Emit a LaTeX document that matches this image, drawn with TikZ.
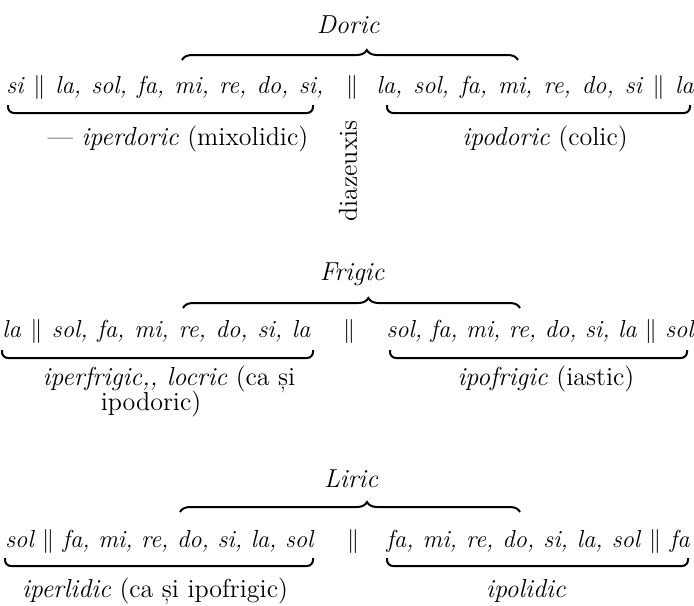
\documentclass[tikz,border=0pt]{standalone}
\usepackage{fontspec}
\usetikzlibrary{decorations.pathreplacing}

\begin{document}
\begin{tikzpicture}[x=0.5pt,y=-0.5pt]
\tikzset{
  modename/.style={font=\fontsize{13}{15}\selectfont\itshape,inner sep=0pt,anchor=base},
  noteline/.style={font=\fontsize{12.3}{15}\selectfont\itshape,inner sep=0pt},
  sepbar/.style={font=\fontsize{13}{15}\selectfont,inner sep=0pt,anchor=base},
  modelabel/.style={font=\fontsize{13}{15}\selectfont,inner sep=0pt,anchor=base},
  overbr/.style={decorate,decoration={brace,amplitude=5pt,aspect=0.55},line width=1pt},
  underbr/.style={rounded corners=3pt,line width=1pt}
}
\useasboundingbox (0,0) rectangle (694,605);
\node[modename] (n_doric) at (348,33) {Doric};
\node[noteline,anchor=base west] (n_d_left) at (6,93) {\makebox[158.5pt][s]{si $\|$ la, sol, fa, mi, re, do, si,}};
\node[sepbar] (n_d_bar) at (352,93) {$\|$};
\node[noteline,anchor=base east] (n_d_right) at (694,93) {\makebox[158.5pt][s]{la, sol, fa, mi, re, do, si $\|$ la}};
\node[modelabel] (n_d_hyper) at (178,145) {--- \textit{iperdoric} (mixolidic)};
\node[modelabel] (n_d_hypo) at (545,145) {\textit{ipodoric} (colic)};
\node[modelabel,rotate=90,anchor=center] (n_diaz) at (348,171) {diazeuxis};
\coordinate (c_d_oa) at (182,60);
\coordinate (c_d_ob) at (518,60);
\coordinate (c_d_la) at (8,105);
\coordinate (c_d_lb) at (313,105);
\coordinate (c_d_ra) at (387,105);
\coordinate (c_d_rb) at (690,105);
\draw[overbr] (c_d_oa) -- (c_d_ob);
\draw[underbr] (c_d_la) -- ++(0,8) -| (c_d_lb);
\draw[underbr] (c_d_ra) -- ++(0,8) -| (c_d_rb);
\node[modename] (n_frigic) at (352,280) {Frigic};
\node[noteline,anchor=base west] (n_f_left) at (2,337) {\makebox[154pt][s]{la $\|$ sol, fa, mi, re, do, si, la}};
\node[sepbar] (n_f_bar) at (349,337) {$\|$};
\node[noteline,anchor=base east] (n_f_right) at (694,337) {\makebox[153.5pt][s]{sol, fa, mi, re, do, si, la $\|$ sol}};
\node[modelabel] (n_f_hyper) at (169,385) {\textit{iperfrigic,{},  locric} (ca și};
\node[modelabel] (n_f_hyper2) at (151,410) {ipodoric)};
\node[modelabel] (n_f_hypo) at (546,385) {\textit{ipofrigic} (iastic)};
\coordinate (c_f_oa) at (183,308);
\coordinate (c_f_ob) at (520,308);
\coordinate (c_f_la) at (2,350);
\coordinate (c_f_lb) at (313,350);
\coordinate (c_f_ra) at (390,350);
\coordinate (c_f_rb) at (687,350);
\draw[overbr] (c_f_oa) -- (c_f_ob);
\draw[underbr] (c_f_la) -- ++(0,8) -| (c_f_lb);
\draw[underbr] (c_f_ra) -- ++(0,8) -| (c_f_rb);
\node[modename] (n_liric) at (351,487) {Liric};
\node[noteline,anchor=base west] (n_l_left) at (5,547) {\makebox[154pt][s]{sol $\|$ fa, mi, re, do, si, la, sol}};
\node[sepbar] (n_l_bar) at (353,547) {$\|$};
\node[noteline,anchor=base east] (n_l_right) at (690,547) {\makebox[151.5pt][s]{fa, mi, re, do, si, la, sol $\|$ fa}};
\node[modelabel] (n_l_hyper) at (155,597) {\textit{iperlidic} (ca și ipofrigic)};
\node[modelabel] (n_l_hypo) at (526,597) {\textit{ipolidic}};
\coordinate (c_l_oa) at (180,512);
\coordinate (c_l_ob) at (520,512);
\coordinate (c_l_la) at (5,558);
\coordinate (c_l_lb) at (313,558);
\coordinate (c_l_ra) at (387,558);
\coordinate (c_l_rb) at (688,558);
\draw[overbr] (c_l_oa) -- (c_l_ob);
\draw[underbr] (c_l_la) -- ++(0,8) -| (c_l_lb);
\draw[underbr] (c_l_ra) -- ++(0,8) -| (c_l_rb);
\end{tikzpicture}
\end{document}
